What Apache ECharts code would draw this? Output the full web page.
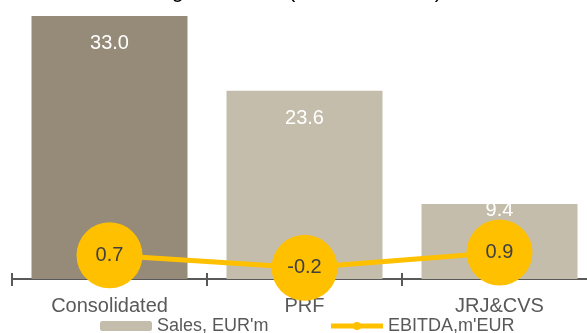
<!DOCTYPE html>
<html>
<head>
<meta charset="utf-8">
<script src="https://cdn.jsdelivr.net/npm/echarts@6/dist/echarts.min.js"></script>
<style>
  html, body { margin: 0; padding: 0; background: #fff; }
  #chart { width: 587px; height: 333px; }
</style>
</head>
<body>
<div id="chart"></div>
<script>
// data
var categories = ['Consolidated', 'PRF', 'JRJ&CVS'];
var sales = [33.0, 23.6, 9.4];
var ebitda = [0.7, -0.2, 0.9];
var barColors = ['#968B78', '#C4BDAC', '#C4BDAC'];

var chart = echarts.init(document.getElementById('chart'));

var salesData = sales.map(function (v, i) {
  var item = { value: v, itemStyle: { color: barColors[i] } };
  // short bar: label sits on the top edge
  if (i === 2) item.label = { distance: -4 };
  return item;
});

var option = {
  animation: false,
  textStyle: { fontFamily: 'Liberation Sans' },
  title: {
    text: 'Segment data (1H 2019 IFRS)',
    left: 'center',
    top: -20,
    padding: 0,
    textStyle: { fontSize: 22, fontWeight: 'normal', color: '#000' }
  },
  legend: {
    left: 95,
    top: 312,
    itemWidth: 52,
    itemHeight: 10,
    itemGap: 60,
    textStyle: { fontSize: 18, color: '#595959' },
    data: [
      "Sales, EUR'm",
      { name: "EBITDA,m'EUR", lineStyle: { width: 5 } }
    ]
  },
  grid: { left: 12, right: -10, top: 0, bottom: 54, containLabel: false, outerBoundsMode: 'none' },
  xAxis: [
    {
      type: 'category',
      data: categories,
      axisLine: { show: true, onZero: false, lineStyle: { color: '#595959', width: 2 } },
      axisTick: { show: true, length: 7, lineStyle: { color: '#595959', width: 2 } },
      axisLabel: { fontSize: 20, color: '#595959', margin: 17 }
    },
    {
      type: 'category',
      data: categories,
      position: 'bottom',
      axisLine: { show: false, onZero: false },
      axisTick: { show: true, inside: true, length: 6, lineStyle: { color: '#595959', width: 2 } },
      axisLabel: { show: false }
    }
  ],
  yAxis: [
    { type: 'value', min: 0, max: 35, show: false, splitLine: { show: false } },
    { type: 'value', min: -1, max: 19, show: false, splitLine: { show: false } }
  ],
  series: [
    {
      name: "Sales, EUR'm",
      type: 'bar',
      barWidth: '80%',
      data: salesData,
      itemStyle: { color: '#C4BDAC' },
      label: {
        show: true,
        position: 'insideTop',
        distance: 18,
        color: '#fff',
        fontSize: 20,
        formatter: function (p) { return p.value.toFixed(1); }
      }
    },
    {
      name: "EBITDA,m'EUR",
      type: 'line',
      yAxisIndex: 1,
      data: ebitda,
      symbol: 'circle',
      symbolSize: 66,
      z: 5,
      itemStyle: { color: '#FFC000' },
      lineStyle: { color: '#FFC000', width: 5 },
      label: {
        show: true,
        position: 'inside',
        color: '#404040',
        fontSize: 20,
        formatter: function (p) { return p.value.toFixed(1); }
      }
    }
  ]
};

chart.setOption(option);
</script>
</body>
</html>
